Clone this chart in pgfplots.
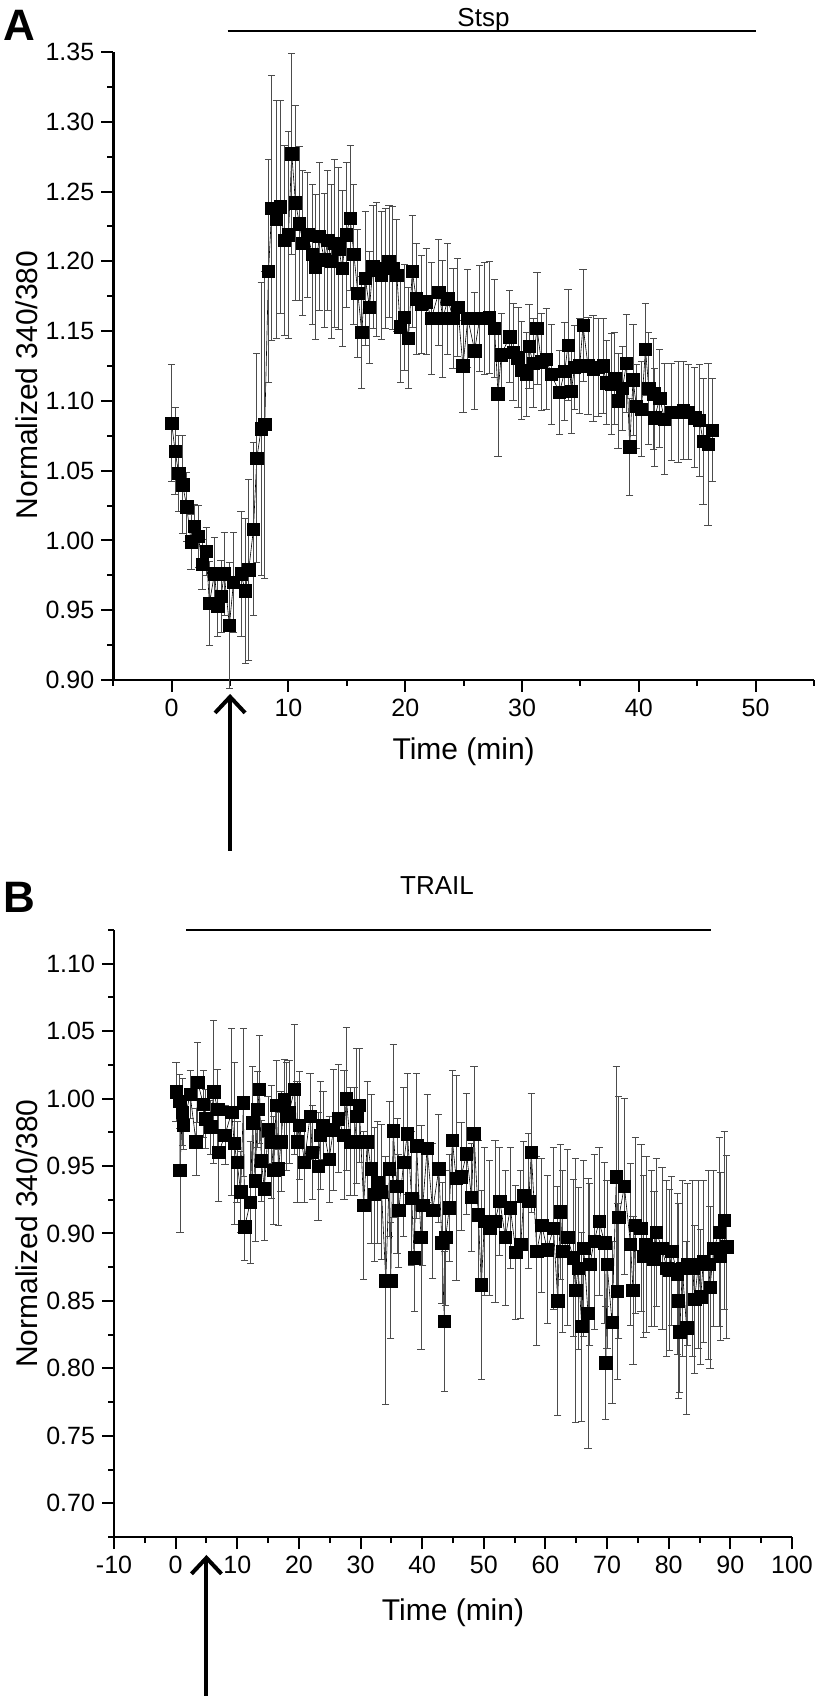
\documentclass[border=0pt]{standalone}
\usepackage{pgfplots}
\pgfplotsset{compat=1.18}
\usepackage{pgfplotstable}
\usepackage{fontspec}
\setmainfont{Liberation Sans}
\usetikzlibrary{arrows.meta}

\pgfplotstableread{
t v e
0.00 1.084 0.042
0.29 1.064 0.031
0.60 1.048 0.027
0.94 1.040 0.035
1.29 1.024 0.025
1.66 0.999 0.020
1.95 1.010 0.016
2.29 1.003 0.022
2.60 0.983 0.018
2.95 0.992 0.017
3.23 0.955 0.030
3.66 0.976 0.026
3.94 0.953 0.022
4.23 0.960 0.026
4.50 0.976 0.030
4.94 0.939 0.045
5.29 0.970 0.036
5.94 0.976 0.045
6.29 0.964 0.052
6.60 0.979 0.065
7.00 1.008 0.062
7.29 1.059 0.075
7.66 1.080 0.105
7.97 1.083 0.110
8.29 1.193 0.080
8.57 1.238 0.095
8.95 1.230 0.085
9.29 1.239 0.076
9.66 1.215 0.068
10.00 1.219 0.074
10.28 1.277 0.072
10.60 1.242 0.070
10.94 1.227 0.055
11.23 1.213 0.052
11.66 1.219 0.045
12.03 1.205 0.050
12.31 1.196 0.052
12.66 1.218 0.053
13.08 1.201 0.048
13.37 1.215 0.050
13.66 1.200 0.055
13.94 1.213 0.060
14.31 1.209 0.058
14.60 1.195 0.056
14.94 1.219 0.052
15.28 1.231 0.052
15.60 1.205 0.050
15.94 1.177 0.046
16.28 1.149 0.040
16.57 1.188 0.048
16.94 1.167 0.040
17.23 1.196 0.044
17.57 1.194 0.048
17.94 1.190 0.046
18.29 1.195 0.043
18.60 1.200 0.040
18.94 1.195 0.044
19.28 1.190 0.040
19.57 1.153 0.040
19.94 1.160 0.038
20.28 1.145 0.036
20.60 1.193 0.040
20.94 1.173 0.040
21.37 1.169 0.035
21.80 1.171 0.038
22.23 1.159 0.040
22.88 1.178 0.038
23.22 1.159 0.042
23.65 1.173 0.040
24.08 1.159 0.036
24.50 1.167 0.035
24.94 1.125 0.033
25.36 1.159 0.035
25.94 1.136 0.042
26.37 1.159 0.038
26.80 1.159 0.040
27.20 1.160 0.040
27.65 1.152 0.035
27.94 1.105 0.045
28.22 1.133 0.030
28.94 1.146 0.033
29.23 1.135 0.035
29.65 1.131 0.036
29.94 1.122 0.035
30.37 1.119 0.030
30.60 1.139 0.030
30.94 1.127 0.032
31.28 1.152 0.040
31.65 1.128 0.035
32.08 1.130 0.036
32.50 1.119 0.036
33.20 1.106 0.030
33.65 1.121 0.035
33.94 1.140 0.040
34.22 1.107 0.030
34.50 1.124 0.030
34.94 1.125 0.034
35.22 1.154 0.040
35.65 1.125 0.035
36.08 1.123 0.038
36.50 1.124 0.035
36.94 1.125 0.034
37.22 1.113 0.030
37.65 1.112 0.036
37.94 1.116 0.033
38.22 1.100 0.034
38.60 1.109 0.030
38.94 1.127 0.035
39.22 1.067 0.035
39.50 1.115 0.040
39.80 1.096 0.030
40.22 1.094 0.034
40.57 1.137 0.033
40.85 1.109 0.040
41.28 1.105 0.040
41.36 1.088 0.035
41.79 1.102 0.035
42.20 1.087 0.040
42.80 1.092 0.035
43.36 1.092 0.036
43.80 1.093 0.035
44.22 1.092 0.034
44.79 1.088 0.036
45.20 1.086 0.040
45.50 1.071 0.045
45.93 1.069 0.058
46.27 1.079 0.037
}\dataA

\pgfplotstableread{
t v e
0.07 1.005 0.022
0.66 0.998 0.020
0.70 0.947 0.046
1.09 0.990 0.025
1.25 0.980 0.018
2.35 1.003 0.018
3.30 0.968 0.025
3.60 1.012 0.030
4.47 0.996 0.025
4.90 0.985 0.022
5.70 0.979 0.020
6.16 1.005 0.053
6.83 0.992 0.030
7.00 0.960 0.036
8.00 0.973 0.022
9.10 0.990 0.062
9.50 0.967 0.060
9.96 0.953 0.030
10.55 0.931 0.030
11.00 0.997 0.055
11.20 0.905 0.025
12.10 0.923 0.045
12.50 0.982 0.042
12.90 0.939 0.045
13.30 0.992 0.028
13.60 1.007 0.040
13.90 0.954 0.030
14.40 0.933 0.038
15.00 0.977 0.025
15.50 0.968 0.042
15.90 0.947 0.040
16.30 0.995 0.033
16.70 0.948 0.042
17.10 0.968 0.037
17.60 0.999 0.030
18.00 0.987 0.040
18.40 0.990 0.038
19.30 1.007 0.048
19.70 0.968 0.045
20.10 0.980 0.040
20.90 0.953 0.030
21.80 0.987 0.032
22.20 0.960 0.035
23.10 0.950 0.040
23.50 0.973 0.040
23.90 0.980 0.025
24.90 0.955 0.032
25.60 0.977 0.045
26.40 0.985 0.040
27.30 0.973 0.048
27.70 1.000 0.053
28.30 0.968 0.040
29.00 0.968 0.040
29.40 0.987 0.050
29.80 0.995 0.042
30.50 0.921 0.055
31.10 0.968 0.045
31.70 0.948 0.055
32.20 0.929 0.050
32.80 0.938 0.045
33.40 0.931 0.050
34.10 0.865 0.092
34.70 0.948 0.050
34.90 0.865 0.043
35.30 0.976 0.064
35.90 0.935 0.050
36.20 0.917 0.042
37.00 0.953 0.055
37.60 0.974 0.045
38.30 0.926 0.050
38.70 0.882 0.040
39.10 0.965 0.054
39.80 0.897 0.083
40.10 0.921 0.045
40.80 0.963 0.040
41.70 0.917 0.050
42.70 0.948 0.040
43.20 0.893 0.045
43.60 0.835 0.052
43.80 0.897 0.050
44.40 0.919 0.040
44.90 0.969 0.052
45.50 0.941 0.076
46.30 0.942 0.040
47.20 0.959 0.045
48.00 0.927 0.040
48.40 0.974 0.050
49.10 0.914 0.055
49.60 0.862 0.070
50.10 0.909 0.055
50.96 0.904 0.050
51.80 0.909 0.060
52.60 0.924 0.040
53.50 0.897 0.050
54.30 0.919 0.045
55.20 0.886 0.050
56.00 0.892 0.055
56.50 0.928 0.040
57.30 0.924 0.050
57.70 0.960 0.044
58.60 0.887 0.070
59.40 0.906 0.050
60.30 0.888 0.055
61.30 0.904 0.060
62.00 0.850 0.085
62.40 0.916 0.050
62.80 0.887 0.060
63.60 0.897 0.065
64.50 0.882 0.058
64.90 0.858 0.098
65.30 0.874 0.060
65.90 0.831 0.070
66.20 0.889 0.065
66.90 0.841 0.100
67.20 0.877 0.060
67.90 0.894 0.065
68.70 0.909 0.055
69.60 0.893 0.060
69.80 0.804 0.042
70.00 0.877 0.062
70.80 0.834 0.060
71.50 0.942 0.082
71.70 0.857 0.065
71.90 0.912 0.090
72.80 0.935 0.065
73.80 0.892 0.060
74.20 0.858 0.055
74.60 0.906 0.065
75.50 0.904 0.062
75.90 0.883 0.060
76.30 0.892 0.065
77.20 0.889 0.058
77.60 0.881 0.050
78.00 0.901 0.055
78.90 0.889 0.060
79.70 0.874 0.065
80.10 0.873 0.060
80.50 0.887 0.055
81.40 0.870 0.060
81.60 0.850 0.072
81.80 0.827 0.045
82.20 0.874 0.065
82.90 0.830 0.064
83.10 0.877 0.060
83.90 0.874 0.065
84.20 0.851 0.055
84.80 0.877 0.062
85.20 0.853 0.050
85.60 0.879 0.060
86.50 0.877 0.070
86.70 0.860 0.060
87.30 0.889 0.058
88.20 0.901 0.070
88.40 0.883 0.062
89.00 0.910 0.066
89.40 0.890 0.068
}\dataB

\pgfplotsset{
  panel/.style={
    scale only axis,
    anchor=south west,
    axis x line=bottom, axis y line=left,
    every outer x axis line/.append style={-},
    every outer y axis line/.append style={-},
    axis line style={line width=1.2pt,-},
    tick style={line width=1pt, black},
    tick align=outside,
    major tick length=6pt, minor tick length=3pt,
    ticklabel style={font=\fontsize{12.5}{15}\selectfont},
    label style={font=\fontsize{15}{18}\selectfont},
    ylabel={Normalized 340/380},
    xlabel={Time (min)},
    clip=false,
  },
  series/.style={
    black, line width=0.3pt,
    mark=square*, mark size=3.1pt, mark options={solid, fill=black},
    error bars/.cd, y dir=both, y explicit,
    error bar style={line width=0.4pt, black!70},
    error mark options={rotate=90, mark size=1.8pt, line width=0.4pt, black!70},
  },
}

\begin{document}
\begin{tikzpicture}
\useasboundingbox (0,0) rectangle (408pt,848pt);

% Panel A
\begin{axis}[panel,
  at={(56.65pt,508pt)}, width=350.35pt, height=314pt,
  xmin=-5, xmax=55, ymin=0.9, ymax=1.35,
  xtick={0,10,20,30,40,50},
  xticklabels={0,10,20,30,40,50},
  minor xtick={-5,5,15,25,35,45,55},
  ytick={0.90,0.95,1.00,1.05,1.10,1.15,1.20,1.25,1.30,1.35},
  yticklabels={0.90,0.95,1.00,1.05,1.10,1.15,1.20,1.25,1.30,1.35},
  minor ytick={0.925,0.975,1.025,1.075,1.125,1.175,1.225,1.275,1.325},
  xlabel style={at={(axis description cs:0.5,-0.115)}, anchor=center},
  ylabel style={at={(axis description cs:-0.123,0.47)}, anchor=center},
]
\addplot[series] table[x=t, y=v, y error=e] {\dataA};
\draw[line width=1pt] (axis cs:4.8,1.3647) -- (axis cs:50,1.3647);
\node[anchor=base, font=\fontsize{13}{15}\selectfont] at (axis cs:26.7,1.3683) {Stsp};
\draw[line width=2pt, -{Straight Barb[length=8pt, width=15pt]}] (axis cs:5,0.7777) -- (axis cs:5,0.8900);
\end{axis}

% Panel B
\begin{axis}[panel,
  at={(57pt,79.5pt)}, width=339pt, height=303.5pt,
  xmin=-10, xmax=100, ymin=0.675, ymax=1.125,
  xtick={-10,0,10,20,30,40,50,60,70,80,90,100},
  xticklabels={-10,0,10,20,30,40,50,60,70,80,90,100},
  minor xtick={-5,5,15,25,35,45,55,65,75,85,95},
  ytick={0.70,0.75,0.80,0.85,0.90,0.95,1.00,1.05,1.10},
  yticklabels={0.70,0.75,0.80,0.85,0.90,0.95,1.00,1.05,1.10},
  minor ytick={0.675,0.725,0.775,0.825,0.875,0.925,0.975,1.025,1.075,1.125},
  xlabel style={at={(axis description cs:0.5,-0.124)}, anchor=center},
  ylabel style={at={(axis description cs:-0.128,0.5)}, anchor=center},
]
\addplot[series] table[x=t, y=v, y error=e] {\dataB};
\draw[line width=1pt] (axis cs:1.7,1.125) -- (axis cs:86.9,1.125);
\node[anchor=base, font=\fontsize{13}{15}\selectfont] at (axis cs:42.4,1.1513) {TRAIL};
\draw[line width=2pt, -{Straight Barb[length=8pt, width=15pt]}] (axis cs:5,0.5572) -- (axis cs:5,0.6617);
\end{axis}

\node[anchor=north west, inner sep=0pt, font=\bfseries\fontsize{22}{22}\selectfont] at (1.5pt,843pt) {A};
\node[anchor=north west, inner sep=0pt, font=\bfseries\fontsize{22}{22}\selectfont] at (1.5pt,407pt) {B};
\end{tikzpicture}
\end{document}
